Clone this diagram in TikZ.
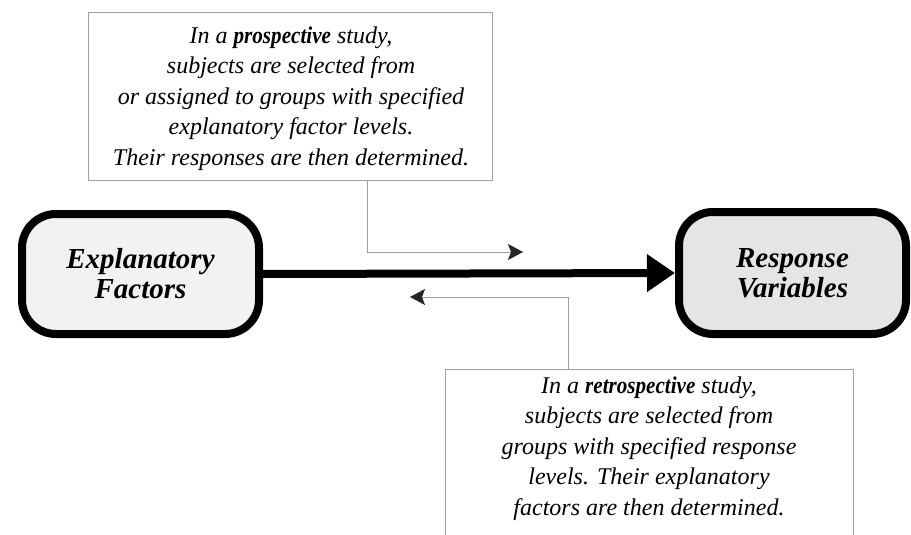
\documentclass[tikz,border=0pt]{standalone}
\usepackage{fontspec}
\setmainfont{Liberation Serif}
\usetikzlibrary{arrows.meta}
\newcommand\boldword[1]{{\bfseries\addfontfeature{FakeStretch=0.88}#1}}
\begin{document}
\begin{tikzpicture}[x=1pt,y=-1pt,
  factor/.style={draw=black, line width=8pt, rounded corners=34pt, inner sep=0pt,
    align=center, font=\fontsize{29}{30}\selectfont\bfseries\itshape},
  frame/.style={draw=gray!75, line width=0.9pt, inner sep=0pt},
  note/.style={inner sep=0pt, align=center, font=\fontsize{24}{30.5}\selectfont\itshape},
  conn/.style={draw=gray!75, line width=0.9pt, -{Stealth[length=15pt,width=16pt,inset=3pt,black!85]}},
  main/.style={line width=8pt, -{Triangle[length=28pt,width=36pt]}}
]
\useasboundingbox (0,0) rectangle (911,535);

% factor boxes
\node[factor, fill=gray!10, minimum width=237pt, minimum height=120pt] (expl) at (140.5,274) {Explanatory\\Factors};
\node[factor, fill=gray!20, minimum width=227pt, minimum height=122pt] (resp) at (792.5,273) {Response\\Variables};

% main arrow
\draw[main] (expl.east) -- (resp.west);

% prospective note
\node[frame, minimum width=404pt, minimum height=168pt] (prosbox) at (290,96) {};
\node[note, anchor=north] (prostext) at (291,26.5) {In a \boldword{prospective} study,\\subjects are selected from\\or assigned to groups with specified\\explanatory factor levels.\\Their responses are then determined.};

% retrospective note
\node[frame, minimum width=408pt, minimum height=200pt, anchor=north] (retrobox) at (649,369) {};
\node[note, anchor=north] (retrotext) at (649,376.5) {In a \boldword{retrospective} study,\\subjects are selected from\\groups with specified response\\levels. Their explanatory\\factors are then determined.};

% connectors
\coordinate (pbend) at (367,252);
\coordinate (ptip) at (523,252);
\draw[conn] (pbend |- prosbox.south) -- (pbend) -- (ptip);

\coordinate (rbend) at (568,297);
\coordinate (rtip) at (410,297);
\draw[conn] (rbend |- retrobox.north) -- (rbend) -- (rtip);
\end{tikzpicture}
\end{document}
